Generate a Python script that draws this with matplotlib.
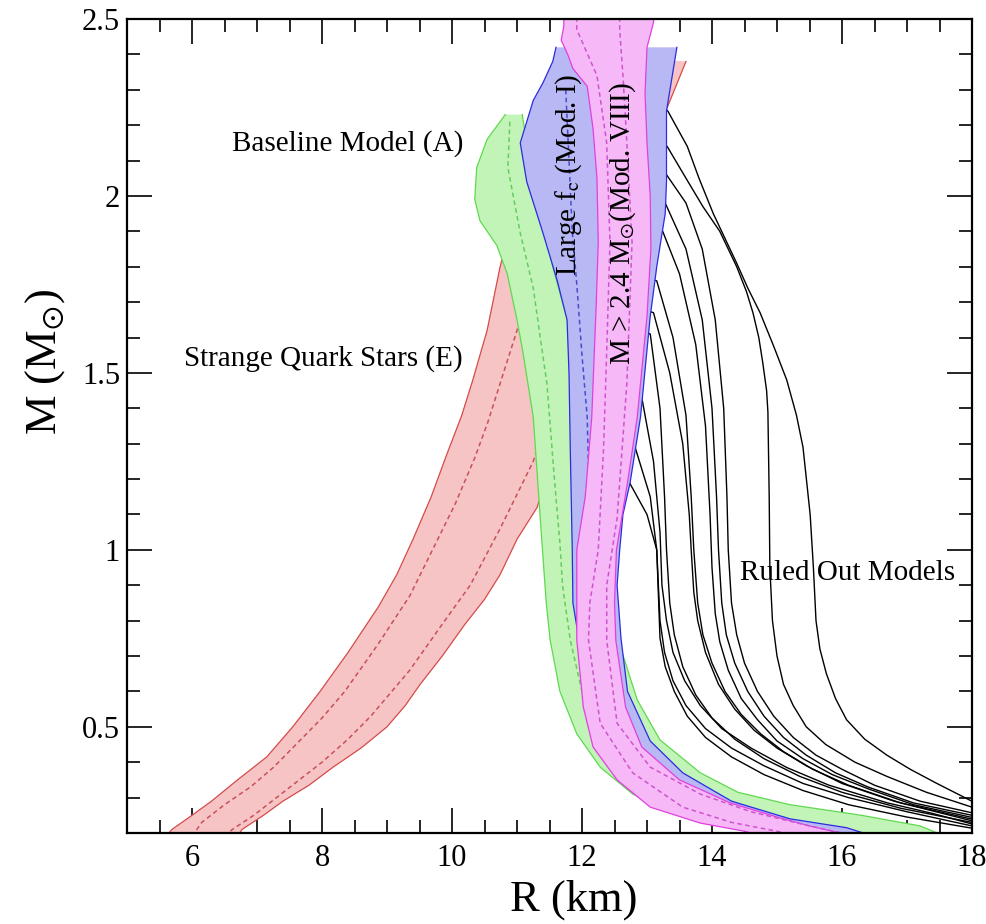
import numpy as np
import matplotlib
matplotlib.use('Agg')
import matplotlib.pyplot as plt
from matplotlib.ticker import MultipleLocator, FuncFormatter

plt.rcParams['font.family'] = ['Liberation Serif', 'DejaVu Serif']
plt.rcParams['mathtext.fontset'] = 'stix'

# ---------------- data (R in km, M in solar masses) ----------------
# Strange quark stars (E) - red band
red_left_R = [5.6, 5.69, 6.0, 6.3, 6.7, 7.15, 7.55, 7.97, 8.4, 8.87, 9.15, 9.40, 9.68, 9.92, 10.15, 10.32,
              10.54, 10.74, 10.95, 11.2, 11.6, 12.0]
red_left_M = [0.19, 0.21, 0.25, 0.29, 0.35, 0.415, 0.5, 0.60, 0.71, 0.84, 0.93, 1.03, 1.15, 1.27, 1.38, 1.48,
              1.62, 1.80, 1.95, 2.1, 2.25, 2.4]
red_right_R = [6.7, 6.77, 7.1, 7.4, 7.8, 8.17, 8.6, 9.0, 9.28, 9.51, 9.85, 10.2, 10.5, 10.74, 11.0, 11.31,
               11.8, 12.3, 12.8, 13.2, 13.4, 13.6]
red_right_M = [0.19, 0.21, 0.25, 0.29, 0.335, 0.386, 0.44, 0.5, 0.56, 0.62, 0.7, 0.79, 0.86, 0.93, 1.03, 1.12,
               1.4, 1.7, 2.0, 2.2, 2.29, 2.38]
red_d1_R = [6.0, 6.15, 6.5, 6.9, 7.25, 7.6, 8.0, 8.35, 8.85, 9.35, 9.7, 10.05, 10.35, 10.55, 10.74, 11.0, 11.3]
red_d1_M = [0.19, 0.23, 0.28, 0.33, 0.385, 0.45, 0.525, 0.6, 0.73, 0.87, 1.0, 1.13, 1.26, 1.36, 1.47, 1.62, 1.8]
red_d2_R = [6.5, 6.62, 6.95, 7.3, 7.65, 8.0, 8.4, 8.75, 9.05, 9.35, 9.85, 10.28, 10.74, 11.25, 11.6]
red_d2_M = [0.19, 0.21, 0.25, 0.3, 0.35, 0.4, 0.465, 0.53, 0.595, 0.66, 0.79, 0.9, 1.06, 1.25, 1.45]

# Baseline model (A) - green band
green_left_R = [10.82, 10.54, 10.38, 10.35, 10.43, 10.69, 10.85, 11.0, 11.09, 11.25, 11.32, 11.38, 11.45,
                11.51, 11.66, 11.92, 12.28, 12.78, 13.3, 13.8, 14.5, 15.2, 15.5]
green_left_M = [2.23, 2.16, 2.08, 1.99, 1.93, 1.86, 1.78, 1.65, 1.56, 1.375, 1.19, 1.03, 0.85,
                0.745, 0.60, 0.48, 0.386, 0.31, 0.265, 0.237, 0.215, 0.2, 0.19]
green_right_R = [11.08, 11.15, 11.3, 11.55, 11.85, 12.1, 12.3, 12.45, 12.52, 12.6, 12.85, 13.2, 13.82,
                 14.4, 15.2, 16.3, 17.2, 17.6]
green_right_M = [2.23, 2.15, 2.0, 1.8, 1.6, 1.4, 1.2, 1.0, 0.85, 0.72, 0.576, 0.463, 0.37,
                 0.315, 0.28, 0.25, 0.22, 0.19]
green_d_R = [10.89, 10.86, 11.05, 11.25, 11.35, 11.46, 11.58, 11.66, 11.7, 11.82, 12.0, 12.3]
green_d_M = [2.21, 2.08, 1.895, 1.74, 1.61, 1.47, 1.19, 1.02, 0.9, 0.745, 0.6, 0.5]

# Large f_c (Mod. I) - blue band
blue_left_R = [11.6, 11.55, 11.4, 11.25, 11.05, 11.15, 11.4, 11.62, 11.77, 11.8, 11.82, 11.85, 11.86,
               11.95, 12.05, 12.3, 12.8, 13.5, 14.5, 15.5, 16.0]
blue_left_M = [2.42, 2.38, 2.32, 2.27, 2.15, 2.04, 1.895, 1.76, 1.65, 1.5, 1.28, 1.0, 0.85,
               0.75, 0.65, 0.5, 0.37, 0.28, 0.23, 0.2, 0.19]
blue_right_R = [13.46, 13.3, 13.3, 13.28, 13.15, 13.05, 12.9, 12.74, 12.63, 12.58, 12.54, 12.6, 12.7,
                13.05, 13.55, 14.3, 15.2, 16.07, 16.5]
blue_right_M = [2.42, 2.24, 2.04, 1.95, 1.80, 1.66, 1.375, 1.19, 1.10, 1.0, 0.9, 0.75, 0.60,
                0.46, 0.37, 0.29, 0.24, 0.215, 0.19]
blue_d_R = [11.75, 11.8, 11.85, 11.92, 12.0, 12.08, 12.12, 12.15]
blue_d_M = [2.3, 2.1, 1.9, 1.75, 1.55, 1.375, 1.09, 0.9]

# M > 2.4 Msun (Mod. VIII) - magenta band
pink_left_R = [11.72, 11.72, 11.68, 11.78, 11.86, 12.08, 12.17, 12.23, 12.25, 12.22, 12.15, 12.05, 11.92,
               11.92, 12.02, 12.17, 12.54, 13.05, 13.82, 14.5, 14.8]
pink_left_M = [2.55, 2.48, 2.44, 2.40, 2.36, 2.31, 2.19, 2.05, 1.87, 1.7, 1.375, 1.15, 1.0,
               0.745, 0.556, 0.443, 0.35, 0.273, 0.228, 0.205, 0.19]
pink_right_R = [13.12, 13.1, 13.0, 12.97, 13.0, 13.05, 13.06, 13.0, 12.85, 12.7, 12.53, 12.5, 12.52,
                12.67, 12.92, 13.5, 14.28, 15.0, 15.5, 15.97, 16.2]
pink_right_M = [2.55, 2.49, 2.42, 2.29, 2.15, 2.0, 1.85, 1.66, 1.375, 1.19, 1.0, 0.85, 0.745,
                0.556, 0.443, 0.35, 0.285, 0.245, 0.22, 0.2, 0.19]
pink_d1_R = [11.92, 11.92, 12.23, 12.38, 12.43, 12.38, 12.33, 12.25, 12.12, 12.1, 12.28, 12.78, 13.55, 14.3, 15.0, 15.3]
pink_d1_M = [2.55, 2.47, 2.34, 2.15, 1.87, 1.56, 1.28, 1.0, 0.85, 0.745, 0.51, 0.37, 0.273, 0.23, 0.205, 0.19]
pink_d2_R = [12.58, 12.58, 12.63, 12.69, 12.77, 12.69, 12.54, 12.38, 12.38, 12.54, 13.05, 13.82, 14.6, 15.5, 16.0, 16.2]
pink_d2_M = [2.55, 2.47, 2.34, 2.15, 1.87, 1.47, 1.09, 0.9, 0.745, 0.51, 0.386, 0.31, 0.26, 0.22, 0.2, 0.19]

# Ruled out models - black curves
ruled_out_R = [
    [13.15, 13.32, 13.62, 13.8, 14.02, 14.38, 14.55, 14.74, 14.95, 15.15, 15.3, 15.40, 15.51, 15.56, 15.6,
     15.66, 15.76, 15.9, 16.07, 16.35, 16.69, 17.05, 17.46, 18.05],
    [13.15, 13.31, 13.6, 13.86, 14.12, 14.38, 14.53, 14.63, 14.72, 14.78, 14.84, 14.86, 14.88, 14.89, 14.93,
     15.0, 15.1, 15.25, 15.45, 15.75, 16.2, 16.69, 17.3, 18.05],
    [13.15, 13.30, 13.6, 13.85, 14.05, 14.18, 14.23, 14.25, 14.3, 14.38, 14.5, 14.7, 14.95, 15.25, 15.6,
     16.0, 16.5, 17.2, 18.05],
    [13.12, 13.28, 13.6, 13.85, 14.0, 14.07, 14.1, 14.15, 14.22, 14.35, 14.55, 14.8, 15.1, 15.45, 15.9,
     16.4, 17.1, 18.05],
    [13.07, 13.22, 13.5, 13.75, 13.9, 13.97, 14.0, 14.05, 14.12, 14.25, 14.45, 14.7, 15.0, 15.4, 15.85,
     16.4, 17.1, 18.05],
    [13.0, 13.15, 13.4, 13.6, 13.68, 13.72, 13.78, 13.86, 14.0, 14.2, 14.45, 14.75, 15.1, 15.55, 16.1,
     16.9, 18.05],
    [12.95, 13.1, 13.35, 13.55, 13.65, 13.68, 13.72, 13.78, 13.9, 14.1, 14.35, 14.65, 15.0, 15.45, 16.0,
     16.8, 18.05],
    [12.9, 13.05, 13.2, 13.27, 13.3, 13.35, 13.42, 13.55, 13.75, 14.0, 14.35, 14.8, 15.35, 16.0, 16.9, 18.05],
    [12.75, 12.9, 13.1, 13.2, 13.23, 13.3, 13.4, 13.58, 13.82, 14.15, 14.6, 15.15, 15.8, 16.7, 17.4, 18.05],
    [12.65, 12.8, 13.05, 13.15, 13.2, 13.27, 13.4, 13.6, 13.9, 14.3, 14.8, 15.4, 16.1, 17.0, 18.05],
    [12.55, 12.7, 13.0, 13.15, 13.2, 13.28, 13.42, 13.62, 13.9, 14.3, 14.8, 15.4, 16.1, 17.0, 18.05],
]
ruled_out_M = [
    [2.26, 2.24, 2.14, 2.05, 1.95, 1.81, 1.74, 1.67, 1.575, 1.48, 1.38, 1.29, 1.10, 0.95, 0.8,
     0.72, 0.65, 0.58, 0.52, 0.465, 0.42, 0.38, 0.34, 0.285],
    [2.15, 2.14, 2.05, 1.97, 1.90, 1.80, 1.73, 1.67, 1.6, 1.53, 1.45, 1.39, 1.15, 0.95, 0.8,
     0.7, 0.62, 0.56, 0.5, 0.45, 0.4, 0.36, 0.315, 0.27],
    [2.07, 2.06, 1.98, 1.85, 1.65, 1.4, 1.15, 1.0, 0.85, 0.76, 0.68, 0.6, 0.53, 0.47, 0.42,
     0.38, 0.335, 0.29, 0.255],
    [1.99, 1.98, 1.85, 1.65, 1.4, 1.15, 1.0, 0.85, 0.76, 0.68, 0.6, 0.53, 0.47, 0.42, 0.37,
     0.33, 0.285, 0.248],
    [1.92, 1.91, 1.78, 1.58, 1.35, 1.1, 0.95, 0.82, 0.74, 0.66, 0.58, 0.52, 0.46, 0.41, 0.365,
     0.325, 0.28, 0.242],
    [1.77, 1.76, 1.6, 1.38, 1.15, 1.0, 0.85, 0.76, 0.68, 0.6, 0.535, 0.48, 0.43, 0.38, 0.335,
     0.285, 0.237],
    [1.68, 1.67, 1.5, 1.3, 1.1, 1.0, 0.88, 0.8, 0.71, 0.62, 0.55, 0.49, 0.44, 0.39, 0.34,
     0.29, 0.232],
    [1.62, 1.61, 1.4, 1.15, 1.0, 0.85, 0.76, 0.67, 0.59, 0.525, 0.465, 0.41, 0.36, 0.315, 0.27, 0.228],
    [1.46, 1.45, 1.25, 1.05, 0.9, 0.8, 0.71, 0.63, 0.56, 0.495, 0.44, 0.385, 0.335, 0.285, 0.255, 0.223],
    [1.31, 1.3, 1.15, 1.0, 0.8, 0.71, 0.63, 0.56, 0.495, 0.44, 0.39, 0.34, 0.3, 0.26, 0.218],
    [1.21, 1.2, 1.1, 1.0, 0.75, 0.67, 0.6, 0.53, 0.47, 0.415, 0.365, 0.32, 0.28, 0.245, 0.212],
]

x_ticks = [6, 8, 10, 12, 14, 16, 18]
y_ticks = [0.5, 1.0, 1.5, 2.0, 2.5]

# ---------------- figure ----------------
fig = plt.figure(figsize=(9.87, 9.24), dpi=100)
ax = fig.add_axes([127 / 987, 91 / 924, 845 / 987, 814 / 924])

for r, m in zip(ruled_out_R, ruled_out_M):
    ax.plot(r, m, color='black', lw=1.0, zorder=1, solid_joinstyle='round')


def band(rl, ml, rr, mr, fill, edge, z):
    ax.fill(np.r_[rl, rr[::-1]], np.r_[ml, mr[::-1]], facecolor=fill, edgecolor='none', zorder=z)
    ax.plot(rl, ml, color=edge, lw=0.9, zorder=z)
    ax.plot(rr, mr, color=edge, lw=0.9, zorder=z)


def dashed(r, m, col, z):
    ax.plot(r, m, color=col, lw=1.1, zorder=z, dashes=(3, 2.2))


band(red_left_R, red_left_M, red_right_R, red_right_M, '#f6c4c4', '#d64a4a', 2)
dashed(red_d1_R, red_d1_M, '#c8505a', 2)
dashed(red_d2_R, red_d2_M, '#c8505a', 2)

band(green_left_R, green_left_M, green_right_R, green_right_M, '#c2f4b8', '#5fd94f', 3)
dashed(green_d_R, green_d_M, '#66cc60', 3)

band(blue_left_R, blue_left_M, blue_right_R, blue_right_M, '#b8b8f4', '#2b2be0', 4)
dashed(blue_d_R, blue_d_M, '#4a4ad0', 4)

band(pink_left_R, pink_left_M, pink_right_R, pink_right_M, '#f7b8f7', '#e040e0', 5)
dashed(pink_d1_R, pink_d1_M, '#cc55cc', 5)
dashed(pink_d2_R, pink_d2_M, '#cc55cc', 5)

# annotations
tk = dict(fontsize=21, zorder=7, ha='center', va='center')
ax.text(8.40, 2.149, 'Baseline Model (A)', **tk)
ax.text(8.02, 1.542, 'Strange Quark Stars (E)', **tk)
ax.text(16.09, 0.934, 'Ruled Out Models', **tk)
ax.text(11.80, 2.06, r'Large f$_{\mathrm{c}}$ (Mod. I)', rotation=90, **tk)
ax.text(12.62, 1.923, r'M > 2.4 M$_{\odot}$(Mod. VIII)', rotation=90, **tk)

# axes styling
ax.set_xlim(5, 18)
ax.set_ylim(0.2, 2.5)
ax.xaxis.set_major_locator(plt.FixedLocator(x_ticks))
ax.yaxis.set_major_locator(plt.FixedLocator(y_ticks))
ax.xaxis.set_minor_locator(MultipleLocator(0.5))
ax.yaxis.set_minor_locator(MultipleLocator(0.1))
ax.yaxis.set_major_formatter(FuncFormatter(lambda v, p: f'{v:g}'))
ax.xaxis.set_major_formatter(FuncFormatter(lambda v, p: f'{v:g}'))
ax.tick_params(which='both', direction='in', top=True, right=True, width=1.2, labelsize=22)
ax.tick_params(which='major', length=18)
ax.tick_params(which='minor', length=9.5)
ax.tick_params(axis='x', which='major', pad=8)
ax.tick_params(axis='y', which='major', pad=5)
for s in ax.spines.values():
    s.set_linewidth(1.6)
    s.set_zorder(10)

ax.set_xlabel('R (km)', fontsize=32, va='center')
ax.xaxis.set_label_coords(0.529, -0.082)
ax.set_ylabel(r'M (M$_{\odot}$)', fontsize=32, va='center')
ax.yaxis.set_label_coords(-0.097, 0.579)

fig.savefig('out.png', dpi=100)
